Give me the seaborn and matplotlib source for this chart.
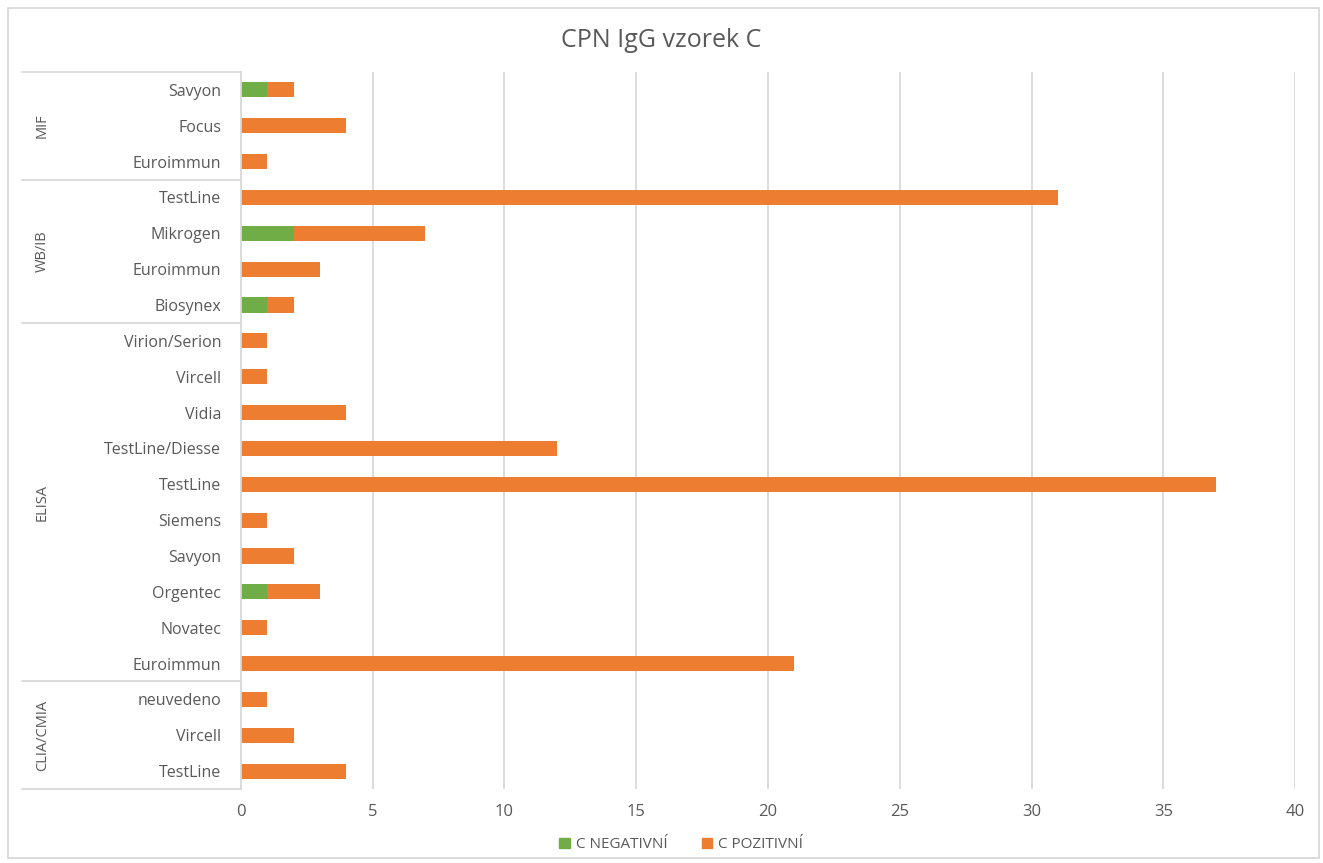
import matplotlib
matplotlib.use("Agg")
import matplotlib.pyplot as plt
import pandas as pd
import seaborn as sns
from matplotlib.patches import Rectangle, Patch
from matplotlib.lines import Line2D

# data, top to bottom as shown
groups = ["MIF", "WB/IB", "ELISA", "CLIA/CMIA"]
group_sizes = [3, 4, 10, 3]
labels = ["Savyon", "Focus", "Euroimmun",
          "TestLine", "Mikrogen", "Euroimmun", "Biosynex",
          "Virion/Serion", "Vircell", "Vidia", "TestLine/Diesse", "TestLine",
          "Siemens", "Savyon", "Orgentec", "Novatec", "Euroimmun",
          "neuvedeno", "Vircell", "TestLine"]
negativni = [1, 0, 0,
             0, 2, 0, 1,
             0, 0, 0, 0, 0, 0, 0, 1, 0, 0,
             0, 0, 0]
pozitivni = [1, 4, 1,
             31, 5, 3, 1,
             1, 1, 4, 12, 37, 1, 2, 2, 1, 21,
             1, 2, 4]

GREEN = "#70AD47"
ORANGE = "#ED7D31"
TXT = "#595959"
LINE = "#D9D9D9"

sns.set_theme(style="white")
plt.rcParams["font.family"] = ["Open Sans", "DejaVu Sans"]

df = pd.DataFrame({"id": [f"{i:02d}" for i in range(len(labels))],
                   "label": labels, "neg": negativni, "pos": pozitivni})
df["total"] = df["neg"] + df["pos"]

fig = plt.figure(figsize=(13.23, 8.63), dpi=100)
ax = fig.add_axes([0.182, 0.0857, 0.797, 0.8309])

sns.barplot(data=df, x="total", y="id", color=ORANGE, orient="h",
            width=0.42, saturation=1, linewidth=0, ax=ax)
sns.barplot(data=df, x="neg", y="id", color=GREEN, orient="h",
            width=0.42, saturation=1, linewidth=0, ax=ax)

ax.set_xlim(0, 40)
ax.set_ylim(len(labels) - 0.5, -0.5)
ax.set_xticks(range(0, 41, 5))
ax.xaxis.grid(True, color=LINE, linewidth=1.3)
ax.set_axisbelow(True)
ax.set_xlabel("")
ax.set_ylabel("")
ax.set_yticks(range(len(labels)))
ax.set_yticklabels(labels)
ax.tick_params(axis="y", length=0, pad=14, labelsize=11.5, labelcolor=TXT)
ax.tick_params(axis="x", length=0, pad=11, labelsize=12, labelcolor=TXT)
for s in ["top", "right", "bottom"]:
    ax.spines[s].set_visible(False)
ax.spines["left"].set_color(LINE)
ax.spines["left"].set_linewidth(1.3)

# group box on the left
trans = ax.get_yaxis_transform()
x0 = -0.2078
bounds = [-0.5]
for n in group_sizes:
    bounds.append(bounds[-1] + n)
for b in bounds:
    ax.add_line(Line2D([x0, 0], [b, b], transform=trans, color=LINE,
                       linewidth=1.3, clip_on=False))
for g, a, b in zip(groups, bounds[:-1], bounds[1:]):
    ax.text(-0.188, (a + b) / 2, g, transform=trans, rotation=90,
            ha="center", va="center", fontsize=10.5, color=TXT)

fig.text(0.5, 0.953, "CPN IgG vzorek C", ha="center", va="center",
         fontsize=18, color=TXT)

handles = [Patch(color=GREEN, label="C NEGATIVNÍ"),
           Patch(color=ORANGE, label="C POZITIVNÍ")]
fig.legend(handles=handles, loc="center", bbox_to_anchor=(0.515, 0.021),
           ncol=2, frameon=False, fontsize=11, handlelength=0.7,
           handleheight=0.7, columnspacing=2.2, handletextpad=0.4,
           labelcolor=TXT)

fig.patches.append(Rectangle((8 / 1323, 5 / 863), 1311 / 1323, 850 / 863,
                             transform=fig.transFigure, fill=False,
                             edgecolor=LINE, linewidth=1.3))

fig.savefig("out.png", dpi=100)
